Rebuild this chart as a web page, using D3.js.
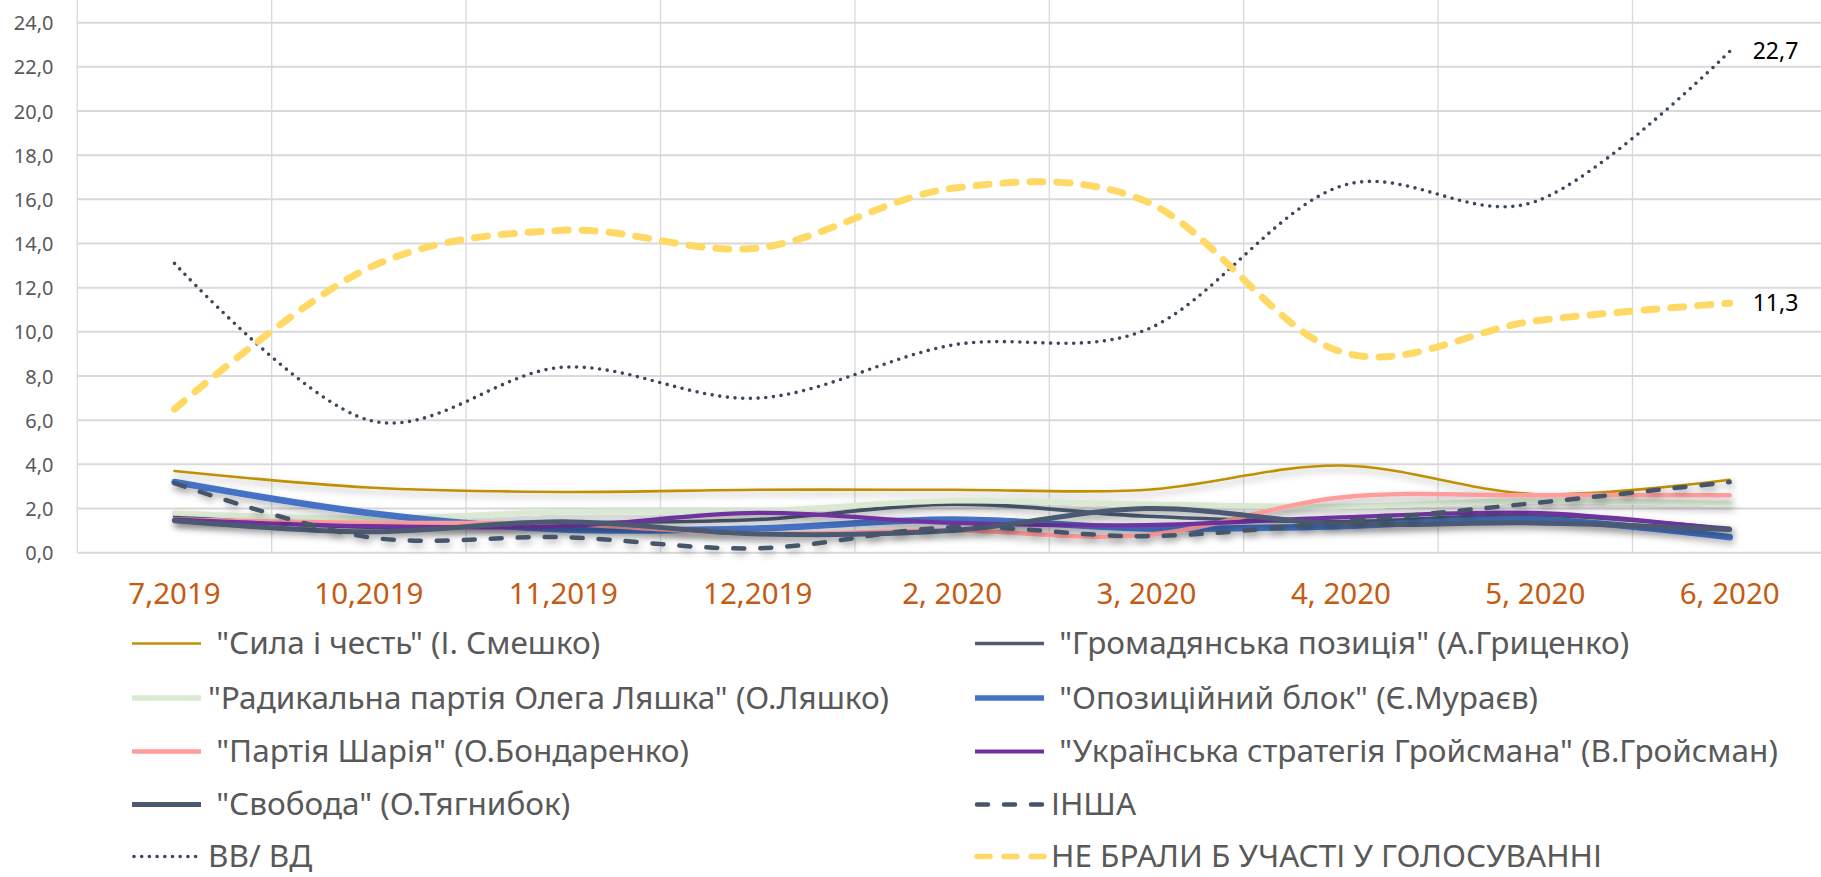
<!DOCTYPE html>
<html>
<head>
<meta charset="utf-8">
<script src="https://cdn.jsdelivr.net/npm/d3@7"></script>
<style>
  html, body { margin: 0; padding: 0; background: #fff; }
  svg { display: block; }
  text { font-family: "Noto Sans", "Open Sans", sans-serif; white-space: pre; }
</style>
</head>
<body>
<svg id="chart" width="1821" height="877"></svg>
<script>
// ---------- data ----------
const categories = ["7,2019", "10,2019", "11,2019", "12,2019", "2, 2020", "3, 2020", "4, 2020", "5, 2020", "6, 2020"];
const yTicks = [0, 2, 4, 6, 8, 10, 12, 14, 16, 18, 20, 22, 24];

const seriesNames = [
  " \"Сила і честь\" (І. Смешко)",
  " \"Громадянська позиція\" (А.Гриценко)",
  "\"Радикальна партія Олега Ляшка\" (О.Ляшко)",
  " \"Опозиційний блок\" (Є.Мураєв)",
  " \"Партія Шарія\" (О.Бондаренко)",
  " \"Українська стратегія Гройсмана\" (В.Гройсман)",
  " \"Свобода\" (О.Тягнибок)",
  "ІНША",
  "ВВ/ ВД",
  "НЕ БРАЛИ Б УЧАСТІ У ГОЛОСУВАННІ"
];

const sila     = [3.7, 2.95, 2.75, 2.85, 2.85, 2.85, 3.95, 2.65, 3.3];
const hromad   = [1.65, 1.15, 1.35, 1.5, 2.2, 1.65, 1.4, 1.7, 1.1];
const radyk    = [1.8, 1.55, 1.85, 1.9, 2.35, 2.2, 2.1, 2.35, 2.2];
const opoz     = [3.2, 1.8, 1.05, 1.1, 1.5, 1.1, 1.2, 1.5, 0.7];
const sharii   = [1.5, 1.35, 1.3, 0.85, 1.0, 0.8, 2.5, 2.6, 2.6];
const hroisman = [1.5, 1.2, 1.2, 1.8, 1.35, 1.25, 1.6, 1.8, 1.05];
const svoboda  = [1.45, 0.95, 1.4, 0.85, 1.0, 2.0, 1.3, 1.35, 1.05];
const insha    = [3.15, 0.7, 0.7, 0.2, 1.15, 0.75, 1.4, 2.25, 3.2];
const vvvd     = [13.1, 6.0, 8.4, 7.0, 9.4, 10.1, 16.6, 15.9, 22.7];
const nebraly  = [6.5, 12.9, 14.6, 13.8, 16.5, 15.9, 9.1, 10.5, 11.3];

const seriesValues = [sila, hromad, radyk, opoz, sharii, hroisman, svoboda, insha, vvvd, nebraly];
const labelledSeries = [8, 9]; // last point labels

// ---------- styles ----------
const styles = [
  { color: "#BF9000", width: 2.6, dash: null, shadow: true },
  { color: "#4D5D75", width: 3.6, dash: null, shadow: true },
  { color: "#DAEAD2", width: 5.5, dash: null, shadow: true },
  { color: "#4472C4", width: 6.5, dash: null, shadow: true },
  { color: "#FF9C9C", width: 4.5, dash: null, shadow: true },
  { color: "#7030A0", width: 4.2, dash: null, shadow: true },
  { color: "#4B5A72", width: 5.0, dash: null, shadow: true },
  { color: "#44546A", width: 4.5, dash: "11,16", shadow: true },
  { color: "#3A475C", width: 3.6, dash: "0,7.7", shadow: false },
  { color: "#FFD966", width: 7.0, dash: "13,14", shadow: false }
];

// ---------- layout ----------
const svg = d3.select("#chart");
const plotLeft = 77.3, plotRight = 1826.9, plotTop = 22.7, plotBottom = 552.7;

const x = d3.scaleBand().domain(categories).range([plotLeft, plotRight]).paddingInner(0).paddingOuter(0);
const y = d3.scaleLinear().domain([0, 24]).range([plotBottom, plotTop]);
const locale = d3.formatLocale({ decimal: ",", thousands: " ", grouping: [3], currency: ["", ""] });
const fmt = locale.format(".1f");

const defs = svg.append("defs");
const f = defs.append("filter").attr("id", "shadow").attr("x", "-5%").attr("y", "-50%").attr("width", "110%").attr("height", "200%");
f.append("feDropShadow").attr("dx", 2).attr("dy", 4).attr("stdDeviation", 3.5)
  .attr("flood-color", "#000").attr("flood-opacity", 0.28);

// gridlines
const grid = svg.append("g");
grid.selectAll("line.h").data(yTicks).join("line")
  .attr("x1", plotLeft).attr("x2", 1821)
  .attr("y1", d => y(d)).attr("y2", d => y(d))
  .attr("stroke", "#D9D9D9").attr("stroke-width", 2);
const bounds = categories.map(c => x(c)).concat([x(categories[categories.length - 1]) + x.bandwidth()]);
grid.selectAll("line.v").data(bounds).join("line")
  .attr("x1", d => d).attr("x2", d => d)
  .attr("y1", 0).attr("y2", plotBottom)
  .attr("stroke", "#D9D9D9").attr("stroke-width", 1.3);

// y axis labels
const yAxis = d3.axisLeft(y).tickValues(yTicks).tickFormat(fmt).tickSize(0).tickPadding(0);
const yg = svg.append("g").attr("transform", "translate(53.5,0)").call(yAxis);
yg.select(".domain").remove();
yg.selectAll("text").attr("font-size", 20).attr("fill", "#595959")
  .attr("font-family", "'Noto Sans', sans-serif").attr("dy", "0.35em");

// x axis labels
const xAxis = d3.axisBottom(x).tickSize(0).tickPadding(0);
const xg = svg.append("g").attr("transform", "translate(0,594)").call(xAxis);
xg.select(".domain").remove();
xg.selectAll("text").attr("font-size", 29.5).attr("fill", "#C55A11")
  .attr("font-family", "'Noto Sans', sans-serif").attr("dy", "0.35em").attr("y", 0);

// lines
const line = d3.line()
  .x((d, i) => x(categories[i]) + x.bandwidth() / 2)
  .y(d => y(d))
  .curve(d3.curveCatmullRom.alpha(0));

const lg = svg.append("g");
seriesValues.forEach((vals, i) => {
  const s = styles[i];
  lg.append("path")
    .attr("d", line(vals))
    .attr("fill", "none")
    .attr("stroke", s.color)
    .attr("stroke-width", s.width)
    .attr("stroke-linecap", "round")
    .attr("stroke-linejoin", "round")
    .attr("stroke-dasharray", s.dash)
    .attr("filter", s.shadow ? "url(#shadow)" : null);
});

// data labels at last point
labelledSeries.forEach(i => {
  const vals = seriesValues[i];
  const last = vals.length - 1;
  svg.append("text")
    .attr("x", x(categories[last]) + x.bandwidth() / 2 + 23)
    .attr("y", y(vals[last]))
    .attr("dy", "0.35em")
    .attr("font-size", 23)
    .attr("fill", "#000")
    .text(fmt(vals[last]));
});

// legend
const legendCols = [132, 975];
const legendRowY = [643.5, 698, 751.5, 804.5, 856.5];
const legend = svg.append("g");
seriesNames.forEach((name, i) => {
  const col = i % 2, row = Math.floor(i / 2);
  const s = styles[i];
  const lx = legendCols[col], ly = legendRowY[row];
  legend.append("line")
    .attr("x1", lx + (s.dash ? 2 : 0)).attr("x2", lx + 69)
    .attr("y1", ly).attr("y2", ly)
    .attr("stroke", s.color)
    .attr("stroke-width", Math.min(s.width, 5.5))
    .attr("stroke-linecap", s.dash ? "round" : "butt")
    .attr("stroke-dasharray", s.dash);
  legend.append("text")
    .attr("x", lx + 76).attr("y", ly).attr("dy", "0.34em")
    .attr("font-size", 31.5).attr("fill", "#595959")
    .text(name);
});
</script>
</body>
</html>
